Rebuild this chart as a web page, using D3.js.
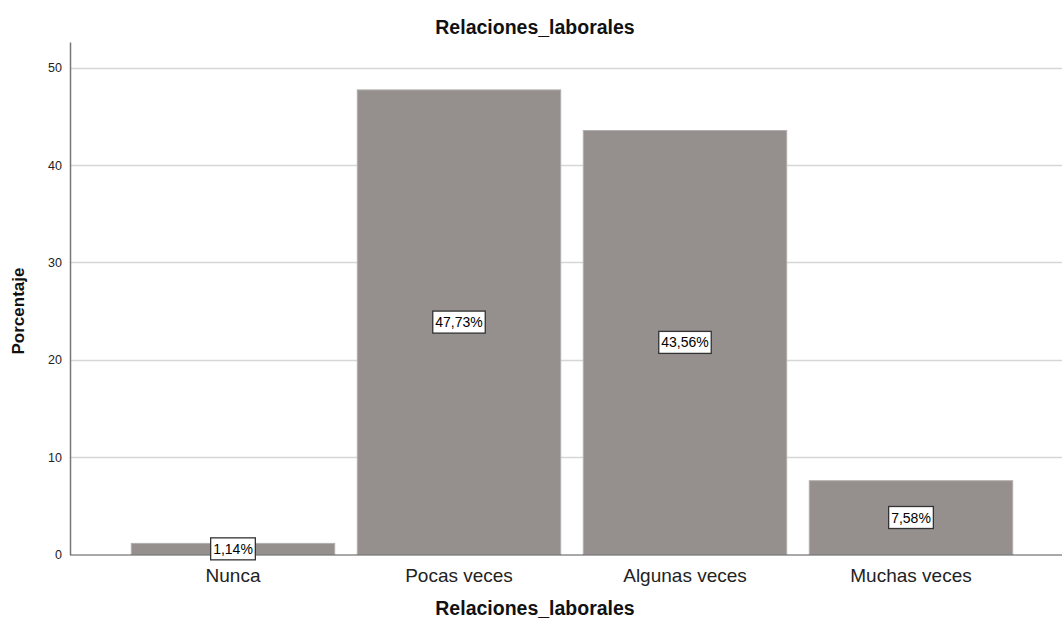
<!DOCTYPE html>
<html>
<head>
<meta charset="utf-8">
<script src="https://cdn.jsdelivr.net/npm/d3@7"></script>
<style>
  html, body { margin: 0; padding: 0; background: #fff; }
  svg { display: block; font-family: "Liberation Sans", Arial, sans-serif; }
</style>
</head>
<body>
<svg id="chart" width="1062" height="626"></svg>
<script>
const categories = ["Nunca", "Pocas veces", "Algunas veces", "Muchas veces"];
const values = [1.14, 47.73, 43.56, 7.58];
const valueLabels = ["1,14%", "47,73%", "43,56%", "7,58%"];
const yTicks = [0, 10, 20, 30, 40, 50];
const chartTitle = "Relaciones_laborales";
const xTitle = "Relaciones_laborales";
const yTitle = "Porcentaje";

(function () {
const svg = d3.select("#chart");
const mLeft = 70, mTop = 42.5, mBottom = 554.5, mRight = 1062;

const y = d3.scaleLinear().domain([0, 52.6]).range([mBottom, mTop]);
const x = d3.scaleBand().domain(categories).range([120, 1024]).paddingInner(0.1).paddingOuter(0.05);

// gridlines
svg.append("g").selectAll("line").data(yTicks.filter(d => d > 0)).join("line")
  .attr("x1", mLeft).attr("x2", mRight)
  .attr("y1", d => Math.round(y(d)) + 0.5).attr("y2", d => Math.round(y(d)) + 0.5)
  .attr("stroke", "#d6d6d6").attr("stroke-width", 1.6);

// bars
svg.append("g").selectAll("rect").data(values).join("rect")
  .attr("x", (d, i) => x(categories[i]))
  .attr("y", d => y(d))
  .attr("width", x.bandwidth())
  .attr("height", d => mBottom - y(d))
  .attr("fill", "#958f8e")
  .attr("stroke", "#b3aeae").attr("stroke-width", 1);

// y axis
const yAxis = d3.axisLeft(y).tickValues(yTicks).tickSize(0).tickPadding(8);
const gy = svg.append("g").attr("transform", `translate(${mLeft},0)`).call(yAxis);
gy.select(".domain").remove();
gy.selectAll("text").attr("font-size", 12.5).attr("fill", "#222").attr("font-family", "Liberation Sans, Arial, sans-serif");
svg.append("line").attr("x1", mLeft + 0.5).attr("x2", mLeft + 0.5).attr("y1", mTop).attr("y2", mBottom + 0.5)
  .attr("stroke", "#777").attr("stroke-width", 1.5);

// x axis
const xAxis = d3.axisBottom(x).tickSize(0).tickPadding(14);
const gx = svg.append("g").attr("transform", `translate(0,${mBottom})`).call(xAxis);
gx.select(".domain").remove();
gx.selectAll("text").attr("font-size", 19).attr("fill", "#222").attr("font-family", "Liberation Sans, Arial, sans-serif");
svg.append("line").attr("x1", mLeft).attr("x2", mRight).attr("y1", mBottom + 0.5).attr("y2", mBottom + 0.5)
  .attr("stroke", "#555").attr("stroke-width", 1.2);

// value labels
const lg = svg.append("g").selectAll("g").data(values).join("g")
  .attr("transform", (d, i) => `translate(${x(categories[i]) + x.bandwidth() / 2},${(y(d) + mBottom) / 2})`);
lg.append("text").text((d, i) => valueLabels[i])
  .attr("text-anchor", "middle").attr("dy", "0.35em")
  .attr("font-size", 14).attr("fill", "#000");
lg.each(function () {
  const g = d3.select(this);
  const bb = g.select("text").node().getBBox();
  g.insert("rect", "text")
    .attr("x", bb.x - 2.5).attr("y", bb.y - 3)
    .attr("width", bb.width + 5).attr("height", bb.height + 6)
    .attr("fill", "#fff").attr("stroke", "#333").attr("stroke-width", 1.3);
});

// titles
svg.append("text").attr("x", 535).attr("y", 34).attr("text-anchor", "middle")
  .attr("font-weight", "bold").attr("font-size", 19.5).attr("fill", "#111").text(chartTitle);
svg.append("text").attr("x", 535).attr("y", 615).attr("text-anchor", "middle")
  .attr("font-weight", "bold").attr("font-size", 19.5).attr("fill", "#111").text(xTitle);
svg.append("text").attr("transform", "translate(24,311) rotate(-90)").attr("text-anchor", "middle")
  .attr("font-weight", "bold").attr("font-size", 17).attr("fill", "#111").text(yTitle);
})();
</script>
</body>
</html>
